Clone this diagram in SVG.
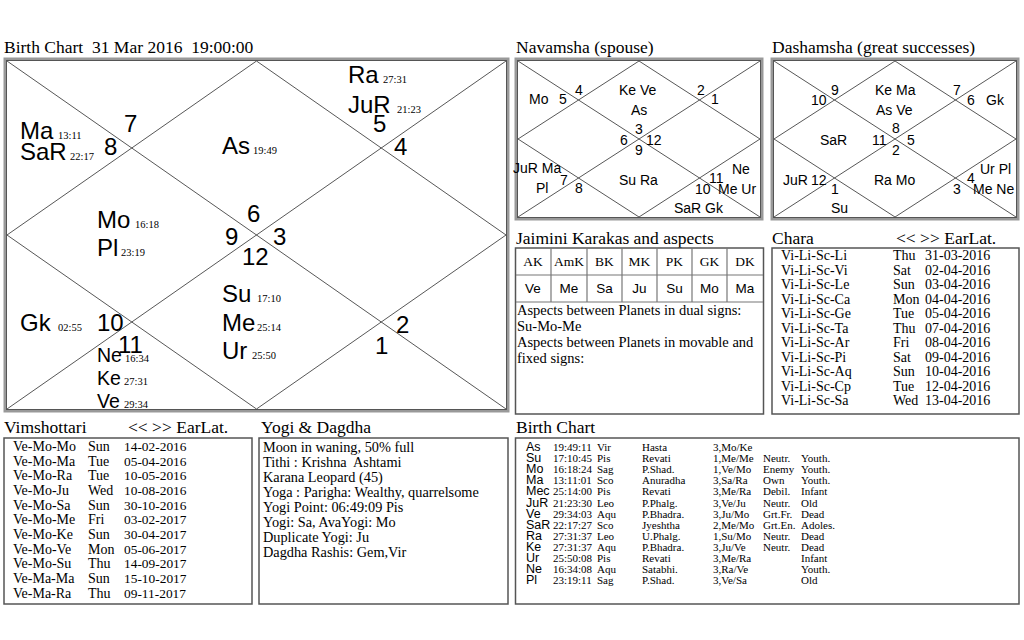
<svg xmlns="http://www.w3.org/2000/svg" width="1024" height="640" viewBox="0 0 1024 640">
<style>
.t{font-family:"Liberation Serif",serif;font-size:17.5px;fill:#000}
.pl{font-family:"Liberation Sans",Arial,sans-serif;font-size:24px;fill:#000}
.ps{font-family:"Liberation Sans",Arial,sans-serif;font-size:19.5px;fill:#000}
.dg{font-family:"Liberation Serif",serif;font-size:10.5px;fill:#000}
.sm{font-family:"Liberation Sans",Arial,sans-serif;font-size:14px;fill:#000}
.ln{stroke:#444;stroke-width:0.9;fill:none}
.bx{fill:#fff;stroke:#555;stroke-width:1.5}
.bo{fill:none;stroke:#999;stroke-width:3}
.bi{fill:none;stroke:#555;stroke-width:1}
.cl{stroke:#777;stroke-width:1.2}
.s14{font-family:"Liberation Serif",serif;font-size:14px;fill:#000}
.d13{font-size:13.4px}
.y14{font-family:"Liberation Serif",serif;font-size:14.3px;fill:#000}
.s15{font-family:"Liberation Serif",serif;font-size:14.5px;fill:#000}
.s13{font-family:"Liberation Serif",serif;font-size:13.5px;fill:#000}
.a13{font-family:"Liberation Sans",Arial,sans-serif;font-size:13.5px;fill:#000}
.s11{font-family:"Liberation Serif",serif;font-size:11px;fill:#000}
.a12{font-family:"Liberation Sans",Arial,sans-serif;font-size:12.5px;fill:#000}
.m{text-anchor:middle}
</style>
<rect width="1024" height="640" fill="#fff"/>

<!-- Titles -->
<g id="titles">
<text class="t" x="4" y="53" xml:space="preserve">Birth Chart  31 Mar 2016  19:00:00</text>
<text class="t" x="516" y="53">Navamsha (spouse)</text>
<text class="t" x="772" y="53">Dashamsha (great successes)</text>
<text class="t" x="516" y="244">Jaimini Karakas and aspects</text>
<text class="t" x="772" y="244">Chara</text>
<text class="t" x="896" y="244">&lt;&lt; &gt;&gt; EarLat.</text>
<text class="t" x="4" y="433">Vimshottari</text>
<text class="t" x="128" y="433">&lt;&lt; &gt;&gt; EarLat.</text>
<text class="t" x="261" y="433">Yogi &amp; Dagdha</text>
<text class="t" x="516" y="433">Birth Chart</text>
</g>

<!-- Main chart -->
<g id="main-chart">
<rect class="bo" x="5" y="59" width="503" height="352"/>
<rect class="bi" x="6.5" y="60.5" width="500" height="349"/>
<g id="main-lines">
<path class="ln" d="M7,61 L506,409 M506,61 L7,409 M256.5,61 L506,235 L256.5,409 L7,235 Z"/>
</g>
<text class="pl" x="20" y="139">Ma</text><text class="dg" x="58" y="139">13:11</text>
<text class="pl" x="20" y="160">SaR</text><text class="dg" x="70" y="160">22:17</text>
<text class="pl" x="124" y="132">7</text>
<text class="pl" x="104" y="155">8</text>
<text class="pl" x="222" y="154">As</text><text class="dg" x="253" y="154">19:49</text>
<text class="pl" x="348" y="83">Ra</text><text class="dg" x="383" y="83">27:31</text>
<text class="pl" x="348" y="113">JuR</text><text class="dg" x="397" y="113">21:23</text>
<text class="pl" x="373" y="132">5</text>
<text class="pl" x="394" y="155">4</text>
<text class="pl" x="97" y="228">Mo</text><text class="dg" x="135" y="228">16:18</text>
<text class="pl" x="97" y="256">Pl</text><text class="dg" x="121" y="256">23:19</text>
<text class="pl" x="247" y="222">6</text>
<text class="pl" x="225" y="245">9</text>
<text class="pl" x="273" y="245">3</text>
<text class="pl" x="242" y="265">12</text>
<text class="pl" x="222" y="302">Su</text><text class="dg" x="257" y="302">17:10</text>
<text class="pl" x="222" y="331">Me</text><text class="dg" x="257" y="331">25:14</text>
<text class="pl" x="222" y="359">Ur</text><text class="dg" x="252" y="359">25:50</text>
<text class="pl" x="20" y="331">Gk</text><text class="dg" x="58" y="331">02:55</text>
<text class="pl" x="97" y="331">10</text>
<text class="pl" x="118" y="353">11</text>
<text class="ps" x="97" y="362">Ne</text><text class="dg" x="125" y="362">16:34</text>
<text class="ps" x="97" y="385">Ke</text><text class="dg" x="124" y="385">27:31</text>
<text class="ps" x="97" y="408">Ve</text><text class="dg" x="124" y="408">29:34</text>
<text class="pl" x="396" y="333">2</text>
<text class="pl" x="375" y="354">1</text>
</g>

<!-- Navamsha -->
<g id="navamsha">
<rect class="bo" x="516" y="59" width="246" height="160"/>
<rect class="bi" x="517.5" y="60.5" width="243" height="157"/>
<path class="ln" d="M518,61 L760,217 M760,61 L518,217 M639,61 L760,139 L639,217 L518,139 Z"/>
<text class="sm" x="529" y="104">Mo</text>
<text class="sm" x="559" y="104">5</text>
<text class="sm" x="575" y="95">4</text>
<text class="sm" x="619" y="95">Ke Ve</text>
<text class="sm" x="631" y="115">As</text>
<text class="sm" x="697" y="95">2</text>
<text class="sm" x="711" y="104">1</text>
<text class="sm" x="635" y="134">3</text>
<text class="sm" x="620" y="145">6</text>
<text class="sm" x="646" y="145">12</text>
<text class="sm" x="635" y="155">9</text>
<text class="sm" x="513" y="173">JuR Ma</text>
<text class="sm" x="560" y="185">7</text>
<text class="sm" x="536" y="193">Pl</text>
<text class="sm" x="575" y="193">8</text>
<text class="sm" x="619" y="185">Su Ra</text>
<text class="sm" x="732" y="174">Ne</text>
<text class="sm" x="709" y="183">11</text>
<text class="sm" x="695" y="194">10</text>
<text class="sm" x="718" y="194">Me Ur</text>
<text class="sm" x="674" y="213">SaR Gk</text>
</g>

<!-- Dashamsha -->
<g id="dashamsha">
<rect class="bo" x="772" y="59" width="246" height="160"/>
<rect class="bi" x="773.5" y="60.5" width="243" height="157"/>
<path class="ln" d="M774,61 L1016,217 M1016,61 L774,217 M895,61 L1016,139 L895,217 L774,139 Z"/>
<text class="sm" x="811" y="105">10</text>
<text class="sm" x="831" y="95">9</text>
<text class="sm" x="875" y="95">Ke Ma</text>
<text class="sm" x="876" y="115">As Ve</text>
<text class="sm" x="953" y="95">7</text>
<text class="sm" x="967" y="105">6</text>
<text class="sm" x="986" y="105">Gk</text>
<text class="sm" x="820" y="145">SaR</text>
<text class="sm" x="872" y="145">11</text>
<text class="sm" x="892" y="133">8</text>
<text class="sm" x="907" y="145">5</text>
<text class="sm" x="892" y="155">2</text>
<text class="sm" x="783" y="185">JuR</text>
<text class="sm" x="811" y="185">12</text>
<text class="sm" x="831" y="194">1</text>
<text class="sm" x="831" y="213">Su</text>
<text class="sm" x="874" y="185">Ra Mo</text>
<text class="sm" x="980" y="174">Ur Pl</text>
<text class="sm" x="967" y="183">4</text>
<text class="sm" x="953" y="194">3</text>
<text class="sm" x="973" y="194">Me Ne</text>
</g>

<!-- Jaimini -->
<g id="jaimini">
<rect class="bx" x="515.5" y="248" width="248" height="166"/>
<g class="cl">
<line x1="516" y1="275" x2="763" y2="275"/>
<line x1="516" y1="302" x2="763" y2="302"/>
<line x1="551" y1="248" x2="551" y2="302"/>
<line x1="587" y1="248" x2="587" y2="302"/>
<line x1="622" y1="248" x2="622" y2="302"/>
<line x1="657" y1="248" x2="657" y2="302"/>
<line x1="692" y1="248" x2="692" y2="302"/>
<line x1="727" y1="248" x2="727" y2="302"/>
</g>
<text class="s13 m" x="533" y="266">AK</text>
<text class="s13 m" x="569" y="266">AmK</text>
<text class="s13 m" x="604.5" y="266">BK</text>
<text class="s13 m" x="639.5" y="266">MK</text>
<text class="s13 m" x="674.5" y="266">PK</text>
<text class="s13 m" x="709.5" y="266">GK</text>
<text class="s13 m" x="745" y="266">DK</text>
<text class="a13 m" x="533" y="293">Ve</text>
<text class="a13 m" x="569" y="293">Me</text>
<text class="a13 m" x="604.5" y="293">Sa</text>
<text class="a13 m" x="639.5" y="293">Ju</text>
<text class="a13 m" x="674.5" y="293">Su</text>
<text class="a13 m" x="709.5" y="293">Mo</text>
<text class="a13 m" x="745" y="293">Ma</text>
<text class="s15" x="517" y="315">Aspects between Planets in dual signs:</text>
<text class="s15" x="517" y="331">Su-Mo-Me</text>
<text class="s15" x="517" y="347">Aspects between Planets in movable and</text>
<text class="s15" x="517" y="363">fixed signs:</text>
</g>

<!-- Chara -->
<g id="chara">
<rect class="bx" x="772" y="248" width="247" height="166"/>
<g class="s14">
<text x="781" y="260">Vi-Li-Sc-Li</text><text x="893" y="260">Thu</text><text x="925" y="260">31-03-2016</text>
<text x="781" y="274.5">Vi-Li-Sc-Vi</text><text x="893" y="274.5">Sat</text><text x="925" y="274.5">02-04-2016</text>
<text x="781" y="289">Vi-Li-Sc-Le</text><text x="893" y="289">Sun</text><text x="925" y="289">03-04-2016</text>
<text x="781" y="303.5">Vi-Li-Sc-Ca</text><text x="893" y="303.5">Mon</text><text x="925" y="303.5">04-04-2016</text>
<text x="781" y="318">Vi-Li-Sc-Ge</text><text x="893" y="318">Tue</text><text x="925" y="318">05-04-2016</text>
<text x="781" y="332.5">Vi-Li-Sc-Ta</text><text x="893" y="332.5">Thu</text><text x="925" y="332.5">07-04-2016</text>
<text x="781" y="347">Vi-Li-Sc-Ar</text><text x="893" y="347">Fri</text><text x="925" y="347">08-04-2016</text>
<text x="781" y="361.5">Vi-Li-Sc-Pi</text><text x="893" y="361.5">Sat</text><text x="925" y="361.5">09-04-2016</text>
<text x="781" y="376">Vi-Li-Sc-Aq</text><text x="893" y="376">Sun</text><text x="925" y="376">10-04-2016</text>
<text x="781" y="390.5">Vi-Li-Sc-Cp</text><text x="893" y="390.5">Tue</text><text x="925" y="390.5">12-04-2016</text>
<text x="781" y="405">Vi-Li-Sc-Sa</text><text x="893" y="405">Wed</text><text x="925" y="405">13-04-2016</text>
</g>
</g>

<!-- Vimshottari -->
<g id="vimshottari">
<rect class="bx" x="4" y="438" width="248" height="166"/>
<g class="s14">
<text x="13" y="451">Ve-Mo-Mo</text><text x="88" y="451">Sun</text><text class="d13" x="124" y="451">14-02-2016</text>
<text x="13" y="465.7">Ve-Mo-Ma</text><text x="88" y="465.7">Tue</text><text class="d13" x="124" y="465.7">05-04-2016</text>
<text x="13" y="480.3">Ve-Mo-Ra</text><text x="88" y="480.3">Tue</text><text class="d13" x="124" y="480.3">10-05-2016</text>
<text x="13" y="495">Ve-Mo-Ju</text><text x="88" y="495">Wed</text><text class="d13" x="124" y="495">10-08-2016</text>
<text x="13" y="509.7">Ve-Mo-Sa</text><text x="88" y="509.7">Sun</text><text class="d13" x="124" y="509.7">30-10-2016</text>
<text x="13" y="524.3">Ve-Mo-Me</text><text x="88" y="524.3">Fri</text><text class="d13" x="124" y="524.3">03-02-2017</text>
<text x="13" y="539">Ve-Mo-Ke</text><text x="88" y="539">Sun</text><text class="d13" x="124" y="539">30-04-2017</text>
<text x="13" y="553.7">Ve-Mo-Ve</text><text x="88" y="553.7">Mon</text><text class="d13" x="124" y="553.7">05-06-2017</text>
<text x="13" y="568.3">Ve-Mo-Su</text><text x="88" y="568.3">Thu</text><text class="d13" x="124" y="568.3">14-09-2017</text>
<text x="13" y="583">Ve-Ma-Ma</text><text x="88" y="583">Sun</text><text class="d13" x="124" y="583">15-10-2017</text>
<text x="13" y="597.7">Ve-Ma-Ra</text><text x="88" y="597.7">Thu</text><text class="d13" x="124" y="597.7">09-11-2017</text>
</g>
</g>

<!-- Yogi & Dagdha -->
<g id="yogi">
<rect class="bx" x="259" y="438" width="249" height="166"/>
<g class="y14">
<text x="263" y="452">Moon in waning, 50% full</text>
<text x="263" y="467" xml:space="preserve">Tithi : Krishna  Ashtami</text>
<text x="263" y="482">Karana Leopard (45)</text>
<text x="263" y="497">Yoga : Parigha: Wealthy, quarrelsome</text>
<text x="263" y="512">Yogi Point: 06:49:09 Pis</text>
<text x="263" y="527">Yogi: Sa, AvaYogi: Mo</text>
<text x="263" y="542">Duplicate Yogi: Ju</text>
<text x="263" y="557">Dagdha Rashis: Gem,Vir</text>
</g>
</g>

<!-- Birth chart table -->
<g id="birth-table">
<rect class="bx" x="515.5" y="438" width="503.5" height="166"/>
<g class="a12">
<text x="526" y="451">As</text>
<text x="526" y="462.1">Su</text>
<text x="526" y="473.2">Mo</text>
<text x="526" y="484.3">Ma</text>
<text x="526" y="495.4">Mec</text>
<text x="526" y="506.5">JuR</text>
<text x="526" y="517.6">Ve</text>
<text x="526" y="528.7">SaR</text>
<text x="526" y="539.8">Ra</text>
<text x="526" y="550.9">Ke</text>
<text x="526" y="562">Ur</text>
<text x="526" y="573.1">Ne</text>
<text x="526" y="584.2">Pl</text>
</g>
<g class="s11">
<text x="553" y="451">19:49:11</text><text x="597" y="451">Vir</text><text x="642" y="451">Hasta</text><text x="713" y="451">3,Mo/Ke</text>
<text x="553" y="462.1">17:10:45</text><text x="597" y="462.1">Pis</text><text x="642" y="462.1">Revati</text><text x="713" y="462.1">1,Me/Me</text><text x="763" y="462.1">Neutr.</text><text x="801" y="462.1">Youth.</text>
<text x="553" y="473.2">16:18:24</text><text x="597" y="473.2">Sag</text><text x="642" y="473.2">P.Shad.</text><text x="713" y="473.2">1,Ve/Mo</text><text x="763" y="473.2">Enemy</text><text x="801" y="473.2">Youth.</text>
<text x="553" y="484.3">13:11:01</text><text x="597" y="484.3">Sco</text><text x="642" y="484.3">Anuradha</text><text x="713" y="484.3">3,Sa/Ra</text><text x="763" y="484.3">Own</text><text x="801" y="484.3">Youth.</text>
<text x="553" y="495.4">25:14:00</text><text x="597" y="495.4">Pis</text><text x="642" y="495.4">Revati</text><text x="713" y="495.4">3,Me/Ra</text><text x="763" y="495.4">Debil.</text><text x="801" y="495.4">Infant</text>
<text x="553" y="506.5">21:23:30</text><text x="597" y="506.5">Leo</text><text x="642" y="506.5">P.Phalg.</text><text x="713" y="506.5">3,Ve/Ju</text><text x="763" y="506.5">Neutr.</text><text x="801" y="506.5">Old</text>
<text x="553" y="517.6">29:34:03</text><text x="597" y="517.6">Aqu</text><text x="642" y="517.6">P.Bhadra.</text><text x="713" y="517.6">3,Ju/Mo</text><text x="763" y="517.6">Grt.Fr.</text><text x="801" y="517.6">Dead</text>
<text x="553" y="528.7">22:17:27</text><text x="597" y="528.7">Sco</text><text x="642" y="528.7">Jyeshtha</text><text x="713" y="528.7">2,Me/Mo</text><text x="763" y="528.7">Grt.En.</text><text x="801" y="528.7">Adoles.</text>
<text x="553" y="539.8">27:31:37</text><text x="597" y="539.8">Leo</text><text x="642" y="539.8">U.Phalg.</text><text x="713" y="539.8">1,Su/Mo</text><text x="763" y="539.8">Neutr.</text><text x="801" y="539.8">Dead</text>
<text x="553" y="550.9">27:31:37</text><text x="597" y="550.9">Aqu</text><text x="642" y="550.9">P.Bhadra.</text><text x="713" y="550.9">3,Ju/Ve</text><text x="763" y="550.9">Neutr.</text><text x="801" y="550.9">Dead</text>
<text x="553" y="562">25:50:08</text><text x="597" y="562">Pis</text><text x="642" y="562">Revati</text><text x="713" y="562">3,Me/Ra</text><text x="801" y="562">Infant</text>
<text x="553" y="573.1">16:34:08</text><text x="597" y="573.1">Aqu</text><text x="642" y="573.1">Satabhi.</text><text x="713" y="573.1">3,Ra/Ve</text><text x="801" y="573.1">Youth.</text>
<text x="553" y="584.2">23:19:11</text><text x="597" y="584.2">Sag</text><text x="642" y="584.2">P.Shad.</text><text x="713" y="584.2">3,Ve/Sa</text><text x="801" y="584.2">Old</text>
</g>
</g>
</svg>
